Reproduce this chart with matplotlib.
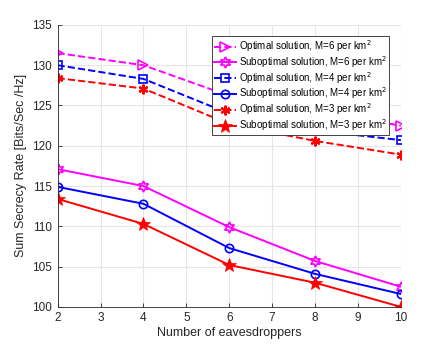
import matplotlib
matplotlib.use('Agg')
import matplotlib.pyplot as plt

plt.rcParams['font.family'] = ['Liberation Sans', 'DejaVu Sans']

eaves = [2, 4, 6, 8, 10]

opt_m6 = [131.5, 130.0, 126.2, 124.3, 122.5]
sub_m6 = [117.1, 115.0, 109.9, 105.7, 102.5]
opt_m4 = [130.0, 128.3, 124.0, 121.9, 120.7]
sub_m4 = [114.9, 112.8, 107.3, 104.1, 101.6]
opt_m3 = [128.4, 127.1, 122.7, 120.6, 118.9]
sub_m3 = [113.4, 110.3, 105.2, 103.0, 100.0]

labels = [
  'Optimal solution, M=6 per km$^2$',
  'Suboptimal solution, M=6 per km$^2$',
  'Optimal solution, M=4 per km$^2$',
  'Suboptimal solution, M=4 per km$^2$',
  'Optimal solution, M=3 per km$^2$',
  'Suboptimal solution, M=3 per km$^2$',
]

fig = plt.figure(figsize=(4.43, 3.46), dpi=100)
ax = fig.add_axes([0.13, 0.113, 0.775, 0.815])

lw = 1.4
ax.plot(eaves, opt_m6, '--', color='#ff00ff', lw=lw, marker='>', ms=7, mfc='none', mew=1.2, label=labels[0])
ax.plot(eaves, sub_m6, '-', color='#ff00ff', lw=lw, marker=(6, 1, 0), ms=8, mfc='none', mew=1.2, label=labels[1])
ax.plot(eaves, opt_m4, '--', color='#0000ff', lw=lw, marker='s', ms=6, mfc='none', mew=1.2, label=labels[2])
ax.plot(eaves, sub_m4, '-', color='#0000ff', lw=lw, marker='o', ms=6, mfc='none', mew=1.2, label=labels[3])
ax.plot(eaves, opt_m3, '--', color='#ff0000', lw=lw, marker=(6, 2, 0), ms=7, mew=1.5, label=labels[4])
ax.plot(eaves, sub_m3, '-', color='#ff0000', lw=lw, marker='*', ms=10, mew=0.5, label=labels[5])

ax.set_xlim(2, 10)
ax.set_ylim(100, 135)
ax.set_xticks(range(2, 11))
ax.set_yticks(range(100, 136, 5))
ax.grid(True, color='#e6e6e6', lw=0.8)
ax.set_axisbelow(True)
for s in ['top', 'right']:
  ax.spines[s].set_visible(False)
for s in ['left', 'bottom']:
  ax.spines[s].set_color('#262626')
  ax.spines[s].set_linewidth(0.6)
ax.tick_params(direction='in', labelsize=8.5, colors='#262626', length=3, width=0.6, pad=4)

ax.set_xlabel('Number of eavesdroppers', fontsize=9, color='#262626', labelpad=2)
ax.set_ylabel('Sum Secrecy Rate [Bits/Sec /Hz]', fontsize=9, color='#262626', labelpad=4)

leg = ax.legend(loc='upper right', bbox_to_anchor=(0.966, 0.96), fontsize=7, frameon=True, fancybox=False,
                framealpha=1, edgecolor='#262626', handlelength=2.3, handletextpad=0.3, labelspacing=0.0,
                borderpad=0.2, borderaxespad=0)
leg.get_frame().set_linewidth(0.6)

fig.savefig('out.png', dpi=100)
